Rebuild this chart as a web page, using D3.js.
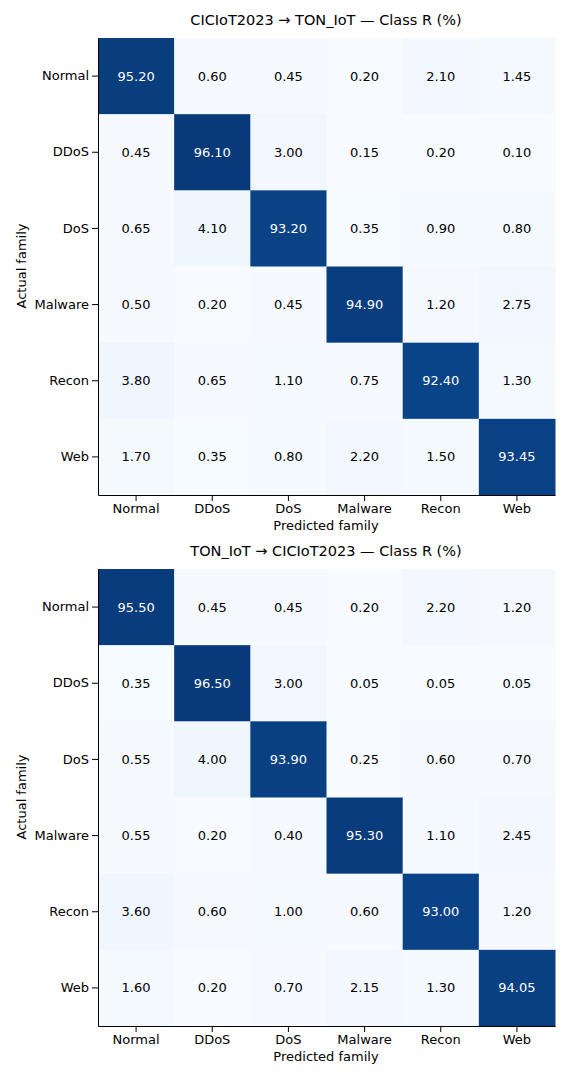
<!DOCTYPE html>
<html><head><meta charset="utf-8">
<script src="https://cdn.jsdelivr.net/npm/d3@7"></script>
<style>body{margin:0;background:#fff}text{font-family:"DejaVu Sans",sans-serif}</style>
</head><body>
<svg id="c" width="570" height="1080"></svg>
<script>
const families = ["Normal","DDoS","DoS","Malware","Recon","Web"];
const titles = ["CICIoT2023 → TON_IoT — Class R (%)","TON_IoT → CICIoT2023 — Class R (%)"];
const matrixA = [
 [95.20,0.60,0.45,0.20,2.10,1.45],
 [0.45,96.10,3.00,0.15,0.20,0.10],
 [0.65,4.10,93.20,0.35,0.90,0.80],
 [0.50,0.20,0.45,94.90,1.20,2.75],
 [3.80,0.65,1.10,0.75,92.40,1.30],
 [1.70,0.35,0.80,2.20,1.50,93.45]];
const matrixB = [
 [95.50,0.45,0.45,0.20,2.20,1.20],
 [0.35,96.50,3.00,0.05,0.05,0.05],
 [0.55,4.00,93.90,0.25,0.60,0.70],
 [0.55,0.20,0.40,95.30,1.10,2.45],
 [3.60,0.60,1.00,0.60,93.00,1.20],
 [1.60,0.20,0.70,2.15,1.30,94.05]];
const svg = d3.select("#c");
const color = d3.scaleSequential(d3.interpolateBlues).domain([0,100]);
function draw(m, title, top){
  const x = d3.scaleBand().domain(families).range([98,555]);
  const y = d3.scaleBand().domain(families).range([top, top+457]);
  const g = svg.append("g");
  g.append("text").attr("x",326).attr("y",top-13).attr("text-anchor","middle").attr("font-size",14.5).text(title);
  m.forEach((row,i)=>row.forEach((v,j)=>{
    g.append("rect").attr("x",x(families[j])).attr("y",y(families[i])).attr("width",x.bandwidth()+0.5).attr("height",y.bandwidth()+0.5).attr("fill",color(v));
    g.append("text").attr("x",x(families[j])+x.bandwidth()/2).attr("y",y(families[i])+y.bandwidth()/2).attr("dy","0.35em")
     .attr("text-anchor","middle").attr("font-size",13).attr("fill",v>50?"#fff":"#000").text(v.toFixed(2));
  }));
  const ax = g.append("g").attr("transform",`translate(0,${top+457})`).call(d3.axisBottom(x).tickSizeOuter(0));
  const ay = g.append("g").attr("transform",`translate(98,0)`).call(d3.axisLeft(y).tickSizeOuter(0));
  [ax,ay].forEach(a=>{a.selectAll("text").attr("font-size",13).attr("fill","#000").style("font-family","DejaVu Sans");a.selectAll("line,path").attr("stroke","#000");});
  g.append("text").attr("x",326).attr("y",top+492).attr("text-anchor","middle").attr("font-size",13).text("Predicted family");
  g.append("text").attr("transform",`translate(26,${top+228}) rotate(-90)`).attr("text-anchor","middle").attr("font-size",13).text("Actual family");
}
draw(matrixA, titles[0], 38);
draw(matrixB, titles[1], 569);
</script></body></html>
